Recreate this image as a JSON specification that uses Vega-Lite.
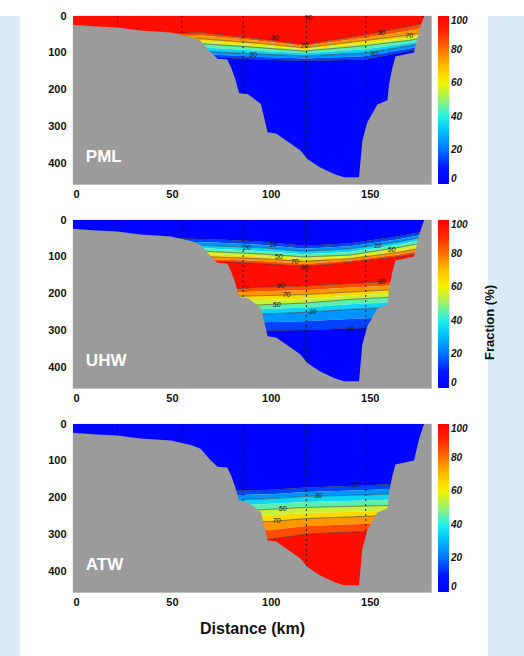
{
"$schema": "https://vega.github.io/schema/vega-lite/v6.json",
"background": "white",
"padding": {"left": 0, "top": 9, "right": 0, "bottom": 0},
"config": {
  "font": "Liberation Sans",
  "view": {"stroke": "#9a9a9a", "strokeWidth": 0.8},
  "axis": {"labelFont": "Liberation Sans", "labelFontWeight": "bold", "labelFontSize": 11, "labelColor": "#111", "ticks": false, "domain": false, "grid": false, "labelPadding": 4, "titleFont": "Liberation Sans", "titleFontWeight": "bold", "titleFontSize": 16, "titleColor": "#111"},
  "axisY": {"labelPadding": 7},
  "legend": {"title": null, "orient": "right", "direction": "vertical", "gradientLength": 168, "gradientThickness": 11, "gradientStrokeWidth": 0, "labelFont": "Liberation Sans", "labelFontSize": 10, "labelFontWeight": "bold", "labelFontStyle": "italic", "labelColor": "#111", "labelOffset": 4, "labelOverlap": false, "offset": 5, "padding": 0}
},
"datasets": {
  "bathy": [{"x":0,"d":24},{"x":10,"d":28},{"x":22.5,"d":31},{"x":34,"d":39},{"x":49.5,"d":45},{"x":59.5,"d":57},{"x":64.5,"d":67},{"x":69,"d":95},{"x":73,"d":116},{"x":78,"d":118},{"x":80,"d":140},{"x":82,"d":170},{"x":84,"d":209},{"x":88.5,"d":212},{"x":95,"d":238},{"x":98.4,"d":315},{"x":102.7,"d":318},{"x":110,"d":345},{"x":115,"d":364},{"x":118.5,"d":387},{"x":125,"d":410},{"x":132,"d":428},{"x":137,"d":437},{"x":144.6,"d":437},{"x":146.3,"d":338},{"x":148.8,"d":288},{"x":153.9,"d":240},{"x":159,"d":228},{"x":159.8,"d":185},{"x":161.5,"d":140},{"x":163,"d":110},{"x":172.4,"d":99},{"x":175,"d":40},{"x":177.5,"d":0},{"x":181,"d":0}],
  "stations": [{"x":22.5,"s":0,"d":31},{"x":55,"s":0,"d":50},{"x":86,"s":0,"d":211},{"x":118,"s":0,"d":387},{"x":148,"s":0,"d":300},{"x":177,"s":0,"d":8}],
  "pml": [
    {"k":1,"v":97,"x":0,"a":0,"b":55},{"k":1,"v":97,"x":65,"a":0,"b":45},{"k":1,"v":97,"x":90,"a":0,"b":59},{"k":1,"v":97,"x":117,"a":0,"b":77},{"k":1,"v":97,"x":148,"a":0,"b":50},{"k":1,"v":97,"x":170,"a":0,"b":28},{"k":1,"v":97,"x":181,"a":0,"b":15},
    {"k":2,"v":85,"x":0,"a":55,"b":62},{"k":2,"v":85,"x":65,"a":45,"b":53},{"k":2,"v":85,"x":90,"a":59,"b":65},{"k":2,"v":85,"x":117,"a":77,"b":81},{"k":2,"v":85,"x":148,"a":50,"b":58},{"k":2,"v":85,"x":170,"a":28,"b":40},{"k":2,"v":85,"x":181,"a":15,"b":28},
    {"k":3,"v":75,"x":0,"a":62,"b":70},{"k":3,"v":75,"x":65,"a":53,"b":62},{"k":3,"v":75,"x":90,"a":65,"b":72},{"k":3,"v":75,"x":117,"a":81,"b":86},{"k":3,"v":75,"x":148,"a":58,"b":66},{"k":3,"v":75,"x":170,"a":40,"b":52},{"k":3,"v":75,"x":181,"a":28,"b":40},
    {"k":4,"v":65,"x":0,"a":70,"b":76},{"k":4,"v":65,"x":65,"a":62,"b":69},{"k":4,"v":65,"x":90,"a":72,"b":78},{"k":4,"v":65,"x":117,"a":86,"b":90},{"k":4,"v":65,"x":148,"a":66,"b":73},{"k":4,"v":65,"x":170,"a":52,"b":59},{"k":4,"v":65,"x":181,"a":40,"b":48},
    {"k":5,"v":55,"x":0,"a":76,"b":82},{"k":5,"v":55,"x":65,"a":69,"b":75},{"k":5,"v":55,"x":90,"a":78,"b":84},{"k":5,"v":55,"x":117,"a":90,"b":95},{"k":5,"v":55,"x":148,"a":73,"b":80},{"k":5,"v":55,"x":170,"a":59,"b":66},{"k":5,"v":55,"x":181,"a":48,"b":55},
    {"k":6,"v":45,"x":0,"a":82,"b":90},{"k":6,"v":45,"x":65,"a":75,"b":85},{"k":6,"v":45,"x":90,"a":84,"b":93},{"k":6,"v":45,"x":117,"a":95,"b":101},{"k":6,"v":45,"x":148,"a":80,"b":90},{"k":6,"v":45,"x":170,"a":66,"b":73},{"k":6,"v":45,"x":181,"a":55,"b":62},
    {"k":7,"v":35,"x":0,"a":90,"b":98},{"k":7,"v":35,"x":65,"a":85,"b":95},{"k":7,"v":35,"x":90,"a":93,"b":102},{"k":7,"v":35,"x":117,"a":101,"b":108},{"k":7,"v":35,"x":148,"a":90,"b":100},{"k":7,"v":35,"x":170,"a":73,"b":80},{"k":7,"v":35,"x":181,"a":62,"b":70},
    {"k":8,"v":25,"x":0,"a":98,"b":105},{"k":8,"v":25,"x":65,"a":95,"b":103},{"k":8,"v":25,"x":90,"a":102,"b":110},{"k":8,"v":25,"x":117,"a":108,"b":115},{"k":8,"v":25,"x":148,"a":100,"b":109},{"k":8,"v":25,"x":170,"a":80,"b":88},{"k":8,"v":25,"x":181,"a":70,"b":78},
    {"k":9,"v":15,"x":0,"a":105,"b":112},{"k":9,"v":15,"x":65,"a":103,"b":110},{"k":9,"v":15,"x":90,"a":110,"b":117},{"k":9,"v":15,"x":117,"a":115,"b":122},{"k":9,"v":15,"x":148,"a":109,"b":118},{"k":9,"v":15,"x":170,"a":88,"b":95},{"k":9,"v":15,"x":181,"a":78,"b":85},
    {"k":10,"v":2,"x":0,"a":112,"b":455},{"k":10,"v":2,"x":65,"a":110,"b":455},{"k":10,"v":2,"x":90,"a":117,"b":455},{"k":10,"v":2,"x":117,"a":122,"b":455},{"k":10,"v":2,"x":148,"a":118,"b":455},{"k":10,"v":2,"x":170,"a":95,"b":455},{"k":10,"v":2,"x":181,"a":85,"b":455}
  ],
  "uhw": [
    {"k":1,"v":2,"x":0,"a":0,"b":45},{"k":1,"v":2,"x":71,"a":0,"b":52},{"k":1,"v":2,"x":95,"a":0,"b":58},{"k":1,"v":2,"x":117,"a":0,"b":70},{"k":1,"v":2,"x":140,"a":0,"b":63},{"k":1,"v":2,"x":164,"a":0,"b":45},{"k":1,"v":2,"x":181,"a":0,"b":28},
    {"k":2,"v":15,"x":0,"a":45,"b":50},{"k":2,"v":15,"x":71,"a":52,"b":61},{"k":2,"v":15,"x":95,"a":58,"b":67},{"k":2,"v":15,"x":117,"a":70,"b":78},{"k":2,"v":15,"x":140,"a":63,"b":71},{"k":2,"v":15,"x":164,"a":45,"b":53},{"k":2,"v":15,"x":181,"a":28,"b":35},
    {"k":3,"v":25,"x":0,"a":50,"b":55},{"k":3,"v":25,"x":71,"a":61,"b":70},{"k":3,"v":25,"x":95,"a":67,"b":75},{"k":3,"v":25,"x":117,"a":78,"b":85},{"k":3,"v":25,"x":140,"a":71,"b":78},{"k":3,"v":25,"x":164,"a":53,"b":60},{"k":3,"v":25,"x":181,"a":35,"b":42},
    {"k":4,"v":35,"x":0,"a":55,"b":60},{"k":4,"v":35,"x":71,"a":70,"b":78},{"k":4,"v":35,"x":95,"a":75,"b":84},{"k":4,"v":35,"x":117,"a":85,"b":93},{"k":4,"v":35,"x":140,"a":78,"b":87},{"k":4,"v":35,"x":164,"a":60,"b":68},{"k":4,"v":35,"x":181,"a":42,"b":50},
    {"k":5,"v":45,"x":0,"a":60,"b":65},{"k":5,"v":45,"x":71,"a":78,"b":86},{"k":5,"v":45,"x":95,"a":84,"b":92},{"k":5,"v":45,"x":117,"a":93,"b":100},{"k":5,"v":45,"x":140,"a":87,"b":95},{"k":5,"v":45,"x":164,"a":68,"b":75},{"k":5,"v":45,"x":181,"a":50,"b":58},
    {"k":6,"v":55,"x":0,"a":65,"b":72},{"k":6,"v":55,"x":71,"a":86,"b":93},{"k":6,"v":55,"x":95,"a":92,"b":99},{"k":6,"v":55,"x":117,"a":100,"b":106},{"k":6,"v":55,"x":140,"a":95,"b":100},{"k":6,"v":55,"x":164,"a":75,"b":82},{"k":6,"v":55,"x":181,"a":58,"b":65},
    {"k":7,"v":65,"x":0,"a":72,"b":78},{"k":7,"v":65,"x":71,"a":93,"b":100},{"k":7,"v":65,"x":95,"a":99,"b":105},{"k":7,"v":65,"x":117,"a":106,"b":112},{"k":7,"v":65,"x":140,"a":100,"b":105},{"k":7,"v":65,"x":164,"a":82,"b":88},{"k":7,"v":65,"x":181,"a":65,"b":72},
    {"k":8,"v":75,"x":0,"a":78,"b":84},{"k":8,"v":75,"x":71,"a":100,"b":106},{"k":8,"v":75,"x":95,"a":105,"b":111},{"k":8,"v":75,"x":117,"a":112,"b":119},{"k":8,"v":75,"x":140,"a":105,"b":110},{"k":8,"v":75,"x":164,"a":88,"b":94},{"k":8,"v":75,"x":181,"a":72,"b":78},
    {"k":9,"v":85,"x":0,"a":84,"b":90},{"k":9,"v":85,"x":71,"a":106,"b":112},{"k":9,"v":85,"x":95,"a":111,"b":118},{"k":9,"v":85,"x":117,"a":119,"b":126},{"k":9,"v":85,"x":140,"a":110,"b":115},{"k":9,"v":85,"x":164,"a":94,"b":100},{"k":9,"v":85,"x":181,"a":78,"b":85},
    {"k":10,"v":97,"x":0,"a":90,"b":195},{"k":10,"v":97,"x":71,"a":112,"b":190},{"k":10,"v":97,"x":95,"a":118,"b":182},{"k":10,"v":97,"x":117,"a":126,"b":178},{"k":10,"v":97,"x":140,"a":115,"b":172},{"k":10,"v":97,"x":164,"a":100,"b":166},{"k":10,"v":97,"x":181,"a":85,"b":160},
    {"k":11,"v":85,"x":0,"a":195,"b":203},{"k":11,"v":85,"x":71,"a":190,"b":199},{"k":11,"v":85,"x":95,"a":182,"b":193},{"k":11,"v":85,"x":117,"a":178,"b":190},{"k":11,"v":85,"x":140,"a":172,"b":183},{"k":11,"v":85,"x":164,"a":166,"b":177},{"k":11,"v":85,"x":181,"a":160,"b":171},
    {"k":12,"v":75,"x":0,"a":203,"b":212},{"k":12,"v":75,"x":71,"a":199,"b":208},{"k":12,"v":75,"x":95,"a":193,"b":205},{"k":12,"v":75,"x":117,"a":190,"b":202},{"k":12,"v":75,"x":140,"a":183,"b":195},{"k":12,"v":75,"x":164,"a":177,"b":188},{"k":12,"v":75,"x":181,"a":171,"b":182},
    {"k":13,"v":65,"x":0,"a":212,"b":223},{"k":13,"v":65,"x":71,"a":208,"b":220},{"k":13,"v":65,"x":95,"a":205,"b":217},{"k":13,"v":65,"x":117,"a":202,"b":213},{"k":13,"v":65,"x":140,"a":195,"b":205},{"k":13,"v":65,"x":164,"a":188,"b":198},{"k":13,"v":65,"x":181,"a":182,"b":192},
    {"k":14,"v":55,"x":0,"a":223,"b":235},{"k":14,"v":55,"x":71,"a":220,"b":232},{"k":14,"v":55,"x":95,"a":217,"b":230},{"k":14,"v":55,"x":117,"a":213,"b":225},{"k":14,"v":55,"x":140,"a":205,"b":215},{"k":14,"v":55,"x":164,"a":198,"b":208},{"k":14,"v":55,"x":181,"a":192,"b":202},
    {"k":15,"v":45,"x":0,"a":235,"b":248},{"k":15,"v":45,"x":71,"a":232,"b":245},{"k":15,"v":45,"x":95,"a":230,"b":242},{"k":15,"v":45,"x":117,"a":225,"b":237},{"k":15,"v":45,"x":140,"a":215,"b":228},{"k":15,"v":45,"x":164,"a":208,"b":222},{"k":15,"v":45,"x":181,"a":202,"b":216},
    {"k":16,"v":35,"x":0,"a":248,"b":262},{"k":16,"v":35,"x":71,"a":245,"b":258},{"k":16,"v":35,"x":95,"a":242,"b":255},{"k":16,"v":35,"x":117,"a":237,"b":250},{"k":16,"v":35,"x":140,"a":228,"b":242},{"k":16,"v":35,"x":164,"a":222,"b":236},{"k":16,"v":35,"x":181,"a":216,"b":230},
    {"k":17,"v":25,"x":0,"a":262,"b":283},{"k":17,"v":25,"x":71,"a":258,"b":280},{"k":17,"v":25,"x":95,"a":255,"b":277},{"k":17,"v":25,"x":117,"a":250,"b":274},{"k":17,"v":25,"x":140,"a":242,"b":268},{"k":17,"v":25,"x":164,"a":236,"b":263},{"k":17,"v":25,"x":181,"a":230,"b":257},
    {"k":18,"v":15,"x":0,"a":283,"b":305},{"k":18,"v":15,"x":71,"a":280,"b":302},{"k":18,"v":15,"x":95,"a":277,"b":300},{"k":18,"v":15,"x":117,"a":274,"b":298},{"k":18,"v":15,"x":140,"a":268,"b":294},{"k":18,"v":15,"x":164,"a":263,"b":290},{"k":18,"v":15,"x":181,"a":257,"b":285},
    {"k":19,"v":2,"x":0,"a":305,"b":455},{"k":19,"v":2,"x":71,"a":302,"b":455},{"k":19,"v":2,"x":95,"a":300,"b":455},{"k":19,"v":2,"x":117,"a":298,"b":455},{"k":19,"v":2,"x":140,"a":294,"b":455},{"k":19,"v":2,"x":164,"a":290,"b":455},{"k":19,"v":2,"x":181,"a":285,"b":455}
  ],
  "atw": [
    {"k":1,"v":2,"x":0,"a":0,"b":182},{"k":1,"v":2,"x":85,"a":0,"b":180},{"k":1,"v":2,"x":100,"a":0,"b":178},{"k":1,"v":2,"x":118,"a":0,"b":172},{"k":1,"v":2,"x":149,"a":0,"b":166},{"k":1,"v":2,"x":165,"a":0,"b":162},{"k":1,"v":2,"x":181,"a":0,"b":158},
    {"k":2,"v":15,"x":0,"a":182,"b":195},{"k":2,"v":15,"x":85,"a":180,"b":192},{"k":2,"v":15,"x":100,"a":178,"b":190},{"k":2,"v":15,"x":118,"a":172,"b":184},{"k":2,"v":15,"x":149,"a":166,"b":179},{"k":2,"v":15,"x":165,"a":162,"b":175},{"k":2,"v":15,"x":181,"a":158,"b":171},
    {"k":3,"v":25,"x":0,"a":195,"b":208},{"k":3,"v":25,"x":85,"a":192,"b":205},{"k":3,"v":25,"x":100,"a":190,"b":202},{"k":3,"v":25,"x":118,"a":184,"b":196},{"k":3,"v":25,"x":149,"a":179,"b":192},{"k":3,"v":25,"x":165,"a":175,"b":188},{"k":3,"v":25,"x":181,"a":171,"b":184},
    {"k":4,"v":35,"x":0,"a":208,"b":223},{"k":4,"v":35,"x":85,"a":205,"b":220},{"k":4,"v":35,"x":100,"a":202,"b":216},{"k":4,"v":35,"x":118,"a":196,"b":211},{"k":4,"v":35,"x":149,"a":192,"b":207},{"k":4,"v":35,"x":165,"a":188,"b":204},{"k":4,"v":35,"x":181,"a":184,"b":200},
    {"k":5,"v":45,"x":0,"a":223,"b":238},{"k":5,"v":45,"x":85,"a":220,"b":235},{"k":5,"v":45,"x":100,"a":216,"b":231},{"k":5,"v":45,"x":118,"a":211,"b":226},{"k":5,"v":45,"x":149,"a":207,"b":222},{"k":5,"v":45,"x":165,"a":204,"b":220},{"k":5,"v":45,"x":181,"a":200,"b":216},
    {"k":6,"v":55,"x":0,"a":238,"b":253},{"k":6,"v":55,"x":85,"a":235,"b":250},{"k":6,"v":55,"x":100,"a":231,"b":247},{"k":6,"v":55,"x":118,"a":226,"b":241},{"k":6,"v":55,"x":149,"a":222,"b":236},{"k":6,"v":55,"x":165,"a":220,"b":232},{"k":6,"v":55,"x":181,"a":216,"b":228},
    {"k":7,"v":65,"x":0,"a":253,"b":268},{"k":7,"v":65,"x":85,"a":250,"b":266},{"k":7,"v":65,"x":100,"a":247,"b":264},{"k":7,"v":65,"x":118,"a":241,"b":256},{"k":7,"v":65,"x":149,"a":236,"b":250},{"k":7,"v":65,"x":165,"a":232,"b":245},{"k":7,"v":65,"x":181,"a":228,"b":240},
    {"k":8,"v":75,"x":0,"a":268,"b":290},{"k":8,"v":75,"x":85,"a":266,"b":289},{"k":8,"v":75,"x":100,"a":264,"b":287},{"k":8,"v":75,"x":118,"a":256,"b":276},{"k":8,"v":75,"x":149,"a":250,"b":270},{"k":8,"v":75,"x":165,"a":245,"b":265},{"k":8,"v":75,"x":181,"a":240,"b":260},
    {"k":9,"v":85,"x":0,"a":290,"b":315},{"k":9,"v":85,"x":85,"a":289,"b":314},{"k":9,"v":85,"x":100,"a":287,"b":312},{"k":9,"v":85,"x":118,"a":276,"b":298},{"k":9,"v":85,"x":149,"a":270,"b":291},{"k":9,"v":85,"x":165,"a":265,"b":285},{"k":9,"v":85,"x":181,"a":260,"b":280},
    {"k":10,"v":97,"x":0,"a":315,"b":455},{"k":10,"v":97,"x":85,"a":314,"b":455},{"k":10,"v":97,"x":100,"a":312,"b":455},{"k":10,"v":97,"x":118,"a":298,"b":455},{"k":10,"v":97,"x":149,"a":291,"b":455},{"k":10,"v":97,"x":165,"a":285,"b":455},{"k":10,"v":97,"x":181,"a":280,"b":455}
  ],
  "lp": [{"x":119,"d":5,"t":"90"},{"x":102,"d":59,"t":"90"},{"x":156,"d":45,"t":"90"},{"x":170,"d":54,"t":"70"},{"x":117,"d":82,"t":"70"},{"x":91,"d":106,"t":"30"},{"x":152,"d":103,"t":"30"}],
  "lu": [{"x":88,"d":75,"t":"20"},{"x":101,"d":68,"t":"10"},{"x":104,"d":101,"t":"50"},{"x":112,"d":113,"t":"70"},{"x":117,"d":131,"t":"90"},{"x":105,"d":178,"t":"90"},{"x":108,"d":203,"t":"70"},{"x":103,"d":230,"t":"50"},{"x":121,"d":250,"t":"30"},{"x":140,"d":297,"t":"10"},{"x":154,"d":70,"t":"10"},{"x":161,"d":81,"t":"50"},{"x":156,"d":167,"t":"90"}],
  "la": [{"x":143,"d":165,"t":"10"},{"x":124,"d":195,"t":"30"},{"x":106,"d":231,"t":"50"},{"x":103,"d":264,"t":"70"}],
  "names": [{"p":"PML","x":6.5,"d":381},{"p":"UHW","x":6.5,"d":381},{"p":"ATW","x":6.5,"d":381}]
},
"hconcat": [
  {
    "width": 20, "height": 647,
    "view": {"fill": "#dbeafa", "stroke": null},
    "data": {"values": [{"t": ""}]},
    "mark": {"type": "text"},
    "encoding": {"text": {"field": "t"}}
  },
  {
    "hconcat": [
      {
        "vconcat": [
          {
            "width": 358, "height": 168,
            "layer": [
              {"data": {"name": "pml"}, "mark": {"type": "area", "interpolate": "linear"},
               "encoding": {
                 "x": {"field": "x", "type": "quantitative", "scale": {"domain": [0, 181], "nice": false, "zero": false}, "axis": {"values": [0, 50, 100, 150], "title": null}},
                 "y": {"field": "a", "type": "quantitative", "scale": {"domain": [0, 455], "nice": false, "reverse": true}, "axis": {"values": [0, 100, 200, 300, 400], "title": null}},
                 "y2": {"field": "b"},
                 "color": {"field": "v", "type": "quantitative",
                   "scale": {"domain": [0,10,20,30,40,50,60,70,80,90,100], "range": ["#0000ff","#0018ff","#0070ff","#00b8ff","#20f0e8","#98f070","#f4f400","#ffc000","#ff7000","#ff2a00","#ff0000"], "interpolate": "rgb"},
                   "legend": {"values": [0,20,40,60,80,100]}},
                 "detail": {"field": "k", "type": "nominal"}
               }},
              {"data": {"name": "pml"}, "transform": [{"filter": "datum.k % 2 == 0"}], "mark": {"type": "line", "color": "#1a1a1a", "strokeWidth": 0.6, "opacity": 0.8},
               "encoding": {"x": {"field": "x", "type": "quantitative"}, "y": {"field": "a", "type": "quantitative"}, "detail": {"field": "k", "type": "nominal"}}},
              {"data": {"name": "stations"}, "mark": {"type": "rule", "color": "#111", "strokeDash": [2, 3], "strokeWidth": 0.9},
               "encoding": {"x": {"field": "x", "type": "quantitative"}, "y": {"field": "s", "type": "quantitative"}, "y2": {"field": "d"}}},
              {"data": {"name": "bathy"}, "mark": {"type": "area", "color": "#9b9b9b", "interpolate": "linear"},
               "encoding": {"x": {"field": "x", "type": "quantitative"}, "y": {"field": "d", "type": "quantitative"}, "y2": {"datum": 455}}},
              {"data": {"name": "lp"}, "mark": {"type": "text", "fontSize": 7, "fontStyle": "italic", "color": "#111"},
               "encoding": {"x": {"field": "x", "type": "quantitative"}, "y": {"field": "d", "type": "quantitative"}, "text": {"field": "t"}}},
              {"data": {"name": "names"}, "transform": [{"filter": "datum.p == 'PML'"}], "mark": {"type": "text", "align": "left", "baseline": "middle", "color": "white", "fontSize": 17, "fontWeight": "bold"},
               "encoding": {"x": {"field": "x", "type": "quantitative"}, "y": {"field": "d", "type": "quantitative"}, "text": {"field": "p"}}}
            ]
          },
          {
            "width": 358, "height": 168,
            "layer": [
              {"data": {"name": "uhw"}, "mark": {"type": "area", "interpolate": "linear"},
               "encoding": {
                 "x": {"field": "x", "type": "quantitative", "scale": {"domain": [0, 181], "nice": false, "zero": false}, "axis": {"values": [0, 50, 100, 150], "title": null}},
                 "y": {"field": "a", "type": "quantitative", "scale": {"domain": [0, 455], "nice": false, "reverse": true}, "axis": {"values": [0, 100, 200, 300, 400], "title": null}},
                 "y2": {"field": "b"},
                 "color": {"field": "v", "type": "quantitative",
                   "scale": {"domain": [0,10,20,30,40,50,60,70,80,90,100], "range": ["#0000ff","#0018ff","#0070ff","#00b8ff","#20f0e8","#98f070","#f4f400","#ffc000","#ff7000","#ff2a00","#ff0000"], "interpolate": "rgb"},
                   "legend": {"values": [0,20,40,60,80,100]}},
                 "detail": {"field": "k", "type": "nominal"}
               }},
              {"data": {"name": "uhw"}, "transform": [{"filter": "(datum.k <= 10 && datum.k % 2 == 0) || (datum.k >= 11 && datum.k % 2 == 1)"}], "mark": {"type": "line", "color": "#1a1a1a", "strokeWidth": 0.6, "opacity": 0.8},
               "encoding": {"x": {"field": "x", "type": "quantitative"}, "y": {"field": "a", "type": "quantitative"}, "detail": {"field": "k", "type": "nominal"}}},
              {"data": {"name": "stations"}, "mark": {"type": "rule", "color": "#111", "strokeDash": [2, 3], "strokeWidth": 0.9},
               "encoding": {"x": {"field": "x", "type": "quantitative"}, "y": {"field": "s", "type": "quantitative"}, "y2": {"field": "d"}}},
              {"data": {"name": "bathy"}, "mark": {"type": "area", "color": "#9b9b9b", "interpolate": "linear"},
               "encoding": {"x": {"field": "x", "type": "quantitative"}, "y": {"field": "d", "type": "quantitative"}, "y2": {"datum": 455}}},
              {"data": {"name": "lu"}, "mark": {"type": "text", "fontSize": 7, "fontStyle": "italic", "color": "#111"},
               "encoding": {"x": {"field": "x", "type": "quantitative"}, "y": {"field": "d", "type": "quantitative"}, "text": {"field": "t"}}},
              {"data": {"name": "names"}, "transform": [{"filter": "datum.p == 'UHW'"}], "mark": {"type": "text", "align": "left", "baseline": "middle", "color": "white", "fontSize": 17, "fontWeight": "bold"},
               "encoding": {"x": {"field": "x", "type": "quantitative"}, "y": {"field": "d", "type": "quantitative"}, "text": {"field": "p"}}}
            ]
          },
          {
            "width": 358, "height": 168,
            "layer": [
              {"data": {"name": "atw"}, "mark": {"type": "area", "interpolate": "linear"},
               "encoding": {
                 "x": {"field": "x", "type": "quantitative", "scale": {"domain": [0, 181], "nice": false, "zero": false}, "axis": {"values": [0, 50, 100, 150], "title": "Distance (km)", "titlePadding": 13}},
                 "y": {"field": "a", "type": "quantitative", "scale": {"domain": [0, 455], "nice": false, "reverse": true}, "axis": {"values": [0, 100, 200, 300, 400], "title": null}},
                 "y2": {"field": "b"},
                 "color": {"field": "v", "type": "quantitative",
                   "scale": {"domain": [0,10,20,30,40,50,60,70,80,90,100], "range": ["#0000ff","#0018ff","#0070ff","#00b8ff","#20f0e8","#98f070","#f4f400","#ffc000","#ff7000","#ff2a00","#ff0000"], "interpolate": "rgb"},
                   "legend": {"values": [0,20,40,60,80,100]}},
                 "detail": {"field": "k", "type": "nominal"}
               }},
              {"data": {"name": "atw"}, "transform": [{"filter": "datum.k % 2 == 0"}], "mark": {"type": "line", "color": "#1a1a1a", "strokeWidth": 0.6, "opacity": 0.8},
               "encoding": {"x": {"field": "x", "type": "quantitative"}, "y": {"field": "a", "type": "quantitative"}, "detail": {"field": "k", "type": "nominal"}}},
              {"data": {"name": "stations"}, "mark": {"type": "rule", "color": "#111", "strokeDash": [2, 3], "strokeWidth": 0.9},
               "encoding": {"x": {"field": "x", "type": "quantitative"}, "y": {"field": "s", "type": "quantitative"}, "y2": {"field": "d"}}},
              {"data": {"name": "bathy"}, "mark": {"type": "area", "color": "#9b9b9b", "interpolate": "linear"},
               "encoding": {"x": {"field": "x", "type": "quantitative"}, "y": {"field": "d", "type": "quantitative"}, "y2": {"datum": 455}}},
              {"data": {"name": "la"}, "mark": {"type": "text", "fontSize": 7, "fontStyle": "italic", "color": "#111"},
               "encoding": {"x": {"field": "x", "type": "quantitative"}, "y": {"field": "d", "type": "quantitative"}, "text": {"field": "t"}}},
              {"data": {"name": "names"}, "transform": [{"filter": "datum.p == 'ATW'"}], "mark": {"type": "text", "align": "left", "baseline": "middle", "color": "white", "fontSize": 17, "fontWeight": "bold"},
               "encoding": {"x": {"field": "x", "type": "quantitative"}, "y": {"field": "d", "type": "quantitative"}, "text": {"field": "p"}}}
            ]
          }
        ],
        "spacing": 13,
        "resolve": {"scale": {"color": "independent"}, "legend": {"color": "independent"}}
      },
      {
        "width": 36, "height": 647,
        "view": {"fill": "#dbeafa", "stroke": null},
        "data": {"values": [{"t": "Fraction (%)"}]},
        "mark": {"type": "text", "angle": 270, "fontSize": 13, "fontWeight": "bold", "font": "Liberation Sans", "color": "#111", "dy": -16, "dx": 17},
        "encoding": {"text": {"field": "t"}}
      }
    ],
    "spacing": 15
  }
],
"spacing": 27
}
